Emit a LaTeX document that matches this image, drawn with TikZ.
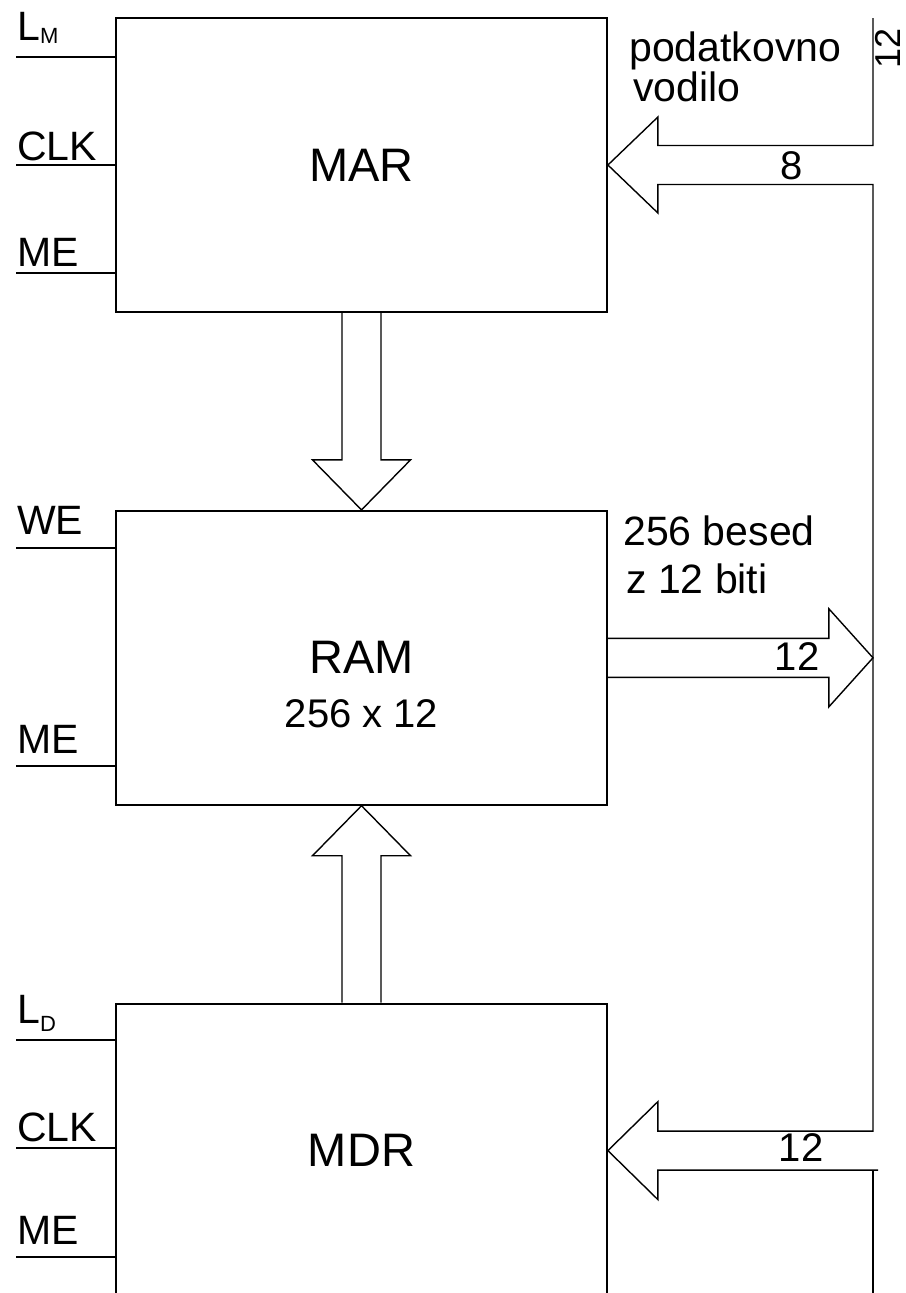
\documentclass[tikz,border=0pt]{standalone}
\usepackage{fontspec}
\setmainfont{Liberation Sans}
\usetikzlibrary{calc,positioning}

\tikzset{
  reg/.style={draw, line width=1.8pt, minimum width=491pt, minimum height=294pt,
    inner sep=0pt, font=\fontsize{47}{50}\selectfont},
  sig/.style={inner sep=0pt, font=\fontsize{41}{42}\selectfont},
  note/.style={inner sep=0pt, font=\fontsize{40}{40}\selectfont},
  wire/.style={line width=1.3pt},
  hollow/.style={line width=1.4pt, line join=miter},
}

\begin{document}
\begin{tikzpicture}[x=1pt,y=-1pt]
  \useasboundingbox (0,0) rectangle (905,1293);
  \clip (0,0) rectangle (905,1293);

  % registers
  \node[reg] (mar) at (361.5,165) {MAR};
  \node[reg, below=197pt of mar] (ram) {RAM};
  \node[reg, below=197pt of ram] (mdr) {MDR};
  \node[note] (ramsize) at ($(ram.center)+(0,56)$) {256 x 12};

  % control inputs
  \coordinate (lmw) at (16,57);
  \coordinate (clkaw) at (16,165);
  \coordinate (meaw) at (16,273);
  \coordinate (wew) at (16,548);
  \coordinate (mebw) at (16,766);
  \coordinate (ldw) at (16,1040);
  \coordinate (clkcw) at (16,1148);
  \coordinate (mecw) at (16,1257);
  \node[sig, anchor=base west] (lm) at (17,40) {L\raisebox{-3pt}{\fontsize{22}{22}\selectfont M}};
  \node[sig, anchor=base west] (clka) at (17,160) {CLK};
  \node[sig, anchor=base west] (mea) at (17,266) {ME};
  \node[sig, anchor=base west] (we) at (17,534) {WE};
  \node[sig, anchor=base west] (meb) at (17,753) {ME};
  \node[sig, anchor=base west] (ld) at (17,1023) {L\raisebox{-8pt}{\fontsize{22}{22}\selectfont D}};
  \node[sig, anchor=base west] (clkc) at (17,1141) {CLK};
  \node[sig, anchor=base west] (mec) at (17,1244) {ME};
  \draw[wire] (lmw) -- (lmw -| mar.west);
  \draw[wire] (clkaw) -- (clkaw -| mar.west);
  \draw[wire] (meaw) -- (meaw -| mar.west);
  \draw[wire] (wew) -- (wew -| ram.west);
  \draw[wire] (mebw) -- (mebw -| ram.west);
  \draw[wire] (ldw) -- (ldw -| mdr.west);
  \draw[wire] (clkcw) -- (clkcw -| mdr.west);
  \draw[wire] (mecw) -- (mecw -| mdr.west);

  % MAR -> RAM, MDR -> RAM
  \draw[hollow] ($(mar.south)+(-19.5,0)$) |- ($(ram.north)+(-49,-50)$) -- (ram.north)
    -- ($(ram.north)+(49,-50)$) -| ($(mar.south)+(19.5,0)$);
  \draw[hollow] ($(mdr.north)+(-19.5,0)$) |- ($(ram.south)+(-49,50)$) -- (ram.south)
    -- ($(ram.south)+(49,50)$) -| ($(mdr.north)+(19.5,0)$);

  % data bus
  \coordinate (bustop) at (873,18);
  \coordinate (busbot) at (873,1293);
  \draw[hollow] (bustop) |- ($(mar.east)+(50,-19.5)$) -- ($(mar.east)+(50,-48)$) -- (mar.east)
    -- ($(mar.east)+(50,48)$) -- ($(mar.east)+(50,19.5)$) -| ($(mdr.east -| bustop)+(0,-19.5)$)
    -- ($(mdr.east)+(50,-19.5)$) -- ($(mdr.east)+(50,-49)$) -- (mdr.east)
    -- ($(mdr.east)+(50,49)$) -- ($(mdr.east)+(50,19.5)$) -- ($(mdr.east -| bustop)+(5,19.5)$);
  \draw[hollow] (busbot) -- ($(mdr.east -| bustop)+(0,19.5)$);
  \draw[hollow] ($(ram.east)+(0,-19.5)$) -- ($(ram.east)+(221,-19.5)$) -- ($(ram.east)+(221,-49)$)
    -- (ram.east -| bustop) -- ($(ram.east)+(221,49)$) -- ($(ram.east)+(221,19.5)$)
    -- ($(ram.east)+(0,19.5)$);

  % bus labels
  \node[note] (w8) at (792,166) {8};
  \node[note] (w12a) at (797,657) {12};
  \node[note] (w12b) at (801,1148) {12};
  \node[note, rotate=90, font=\fontsize{36}{36}\selectfont] (w12c) at (888,48) {12};
  \node[note, anchor=north west, align=left, font=\fontsize{41}{36}\selectfont] (busname)
    at (629,32) {podatkovno\\\hspace*{4pt}vodilo};
  \node[note, anchor=north west, align=left, font=\fontsize{41}{48}\selectfont] (ramnote)
    at (623,516) {256 besed\\\hspace*{3pt}z 12 biti};
\end{tikzpicture}
\end{document}
